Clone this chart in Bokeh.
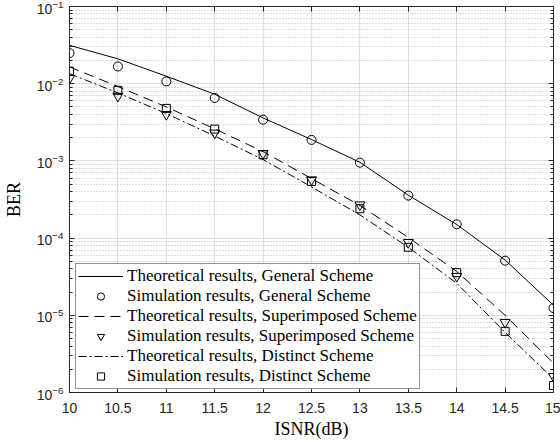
from bokeh.plotting import figure
from bokeh.models import (LogAxis, LinearAxis, Legend, LegendItem, Range1d, LogTicker,
                          FixedTicker)
from bokeh.embed import file_html
from bokeh.resources import INLINE

isnr = [10, 10.5, 11, 11.5, 12, 12.5, 13, 13.5, 14, 14.5, 15]

theory_general = [0.0314, 0.0210, 0.0125, 0.0073, 0.0036, 0.00189, 0.00096, 0.00036, 0.000150, 5.2e-5, 1.35e-5]
sim_general = [0.0249, 0.0167, 0.0107, 0.00653, 0.00342, 0.00187, 0.00095, 0.000355, 0.000151, 5.1e-5, 1.24e-5]
theory_super = [0.0165, 0.0092, 0.0050, 0.0026, 0.00132, 0.00059, 0.000265, 0.000102, 3.7e-5, 1.0e-5, 2.4e-6]
sim_super = [0.0117, 0.0069, 0.0040, 0.0023, 0.00125, 0.00057, 0.00027, 8.8e-5, 3.2e-5, 8.1e-6, 1.62e-6]
theory_distinct = [0.0135, 0.0076, 0.0041, 0.0021, 0.00104, 0.00046, 0.00020, 7.6e-5, 2.6e-5, 6.0e-6, 1.5e-6]
sim_distinct = [0.0145, 0.0082, 0.00479, 0.00258, 0.00120, 0.00054, 0.00024, 7.6e-5, 3.57e-5, 6.2e-6, 1.23e-6]

labels = [
    "Theoretical results, General Scheme",
    "Simulation results, General Scheme",
    "Theoretical results, Superimposed Scheme",
    "Simulation results, Superimposed Scheme",
    "Theoretical results, Distinct Scheme",
    "Simulation results, Distinct Scheme",
]

x_ticks = [10, 10.5, 11, 11.5, 12, 12.5, 13, 13.5, 14, 14.5, 15]

AX = "#262626"

p = figure(width=560, height=442, y_axis_type="log",
           x_range=Range1d(10, 15), y_range=Range1d(1e-6, 1e-1),
           output_backend="svg", toolbar_location=None,
           min_border_left=69, min_border_right=7, min_border_top=6, min_border_bottom=50)

p.outline_line_color = AX
p.outline_line_width = 1

p.xaxis.ticker = FixedTicker(ticks=x_ticks)
p.xaxis.major_label_overrides = {t: (str(int(t)) if t == int(t) else str(t)) for t in x_ticks}
p.yaxis.ticker = LogTicker(num_minor_ticks=10)

for ax in p.xaxis + p.yaxis:
    ax.axis_line_color = AX
    ax.major_tick_line_color = AX
    ax.minor_tick_line_color = AX
    ax.major_tick_in = 5
    ax.major_tick_out = 0
    ax.major_label_text_font = "Liberation Sans"
    ax.major_label_text_font_size = "14px"
    ax.major_label_text_color = AX
    ax.axis_label_text_font = "Liberation Serif"
    ax.axis_label_text_font_size = "18px"
    ax.axis_label_text_font_style = "normal"
    ax.axis_label_text_color = "black"

p.xaxis.minor_tick_in = 0
p.xaxis.minor_tick_out = 0
p.yaxis.minor_tick_in = 3
p.yaxis.minor_tick_out = 0
p.xaxis.major_label_standoff = 10
p.yaxis.major_label_standoff = 6
p.xaxis.axis_label = "ISNR(dB)"
p.yaxis.axis_label = "BER"
p.xaxis.axis_label_standoff = 3
p.yaxis.axis_label_standoff = 10

top = LinearAxis(ticker=FixedTicker(ticks=x_ticks), major_label_text_alpha=0,
                 major_label_text_font_size="1px",
                 major_label_standoff=0, major_tick_in=5, major_tick_out=0,
                 minor_tick_in=0, minor_tick_out=0, axis_line_color=AX, major_tick_line_color=AX)
right = LogAxis(ticker=LogTicker(num_minor_ticks=10), major_label_text_alpha=0,
                major_label_text_font_size="1px",
                major_label_standoff=0, major_tick_in=5, major_tick_out=0,
                minor_tick_in=3, minor_tick_out=0, axis_line_color=AX,
                major_tick_line_color=AX, minor_tick_line_color=AX)
p.add_layout(top, "above")
p.add_layout(right, "right")

p.xgrid.grid_line_color = "#dedede"
p.ygrid.grid_line_color = "#dedede"
p.ygrid.minor_grid_line_color = "#bdbdbd"
p.ygrid.minor_grid_line_dash = "1 2"
p.ygrid.minor_grid_line_width = 1

r1 = p.line(isnr, theory_general, line_color="black", line_width=1)
r2 = p.scatter(isnr, sim_general, marker="circle", size=9, fill_color=None, line_color="black", line_width=1)
r3 = p.line(isnr, theory_super, line_color="black", line_width=1, line_dash="10 6")
r4 = p.scatter(isnr, sim_super, marker="inverted_triangle", size=10, fill_color=None, line_color="black", line_width=1)
r5 = p.line(isnr, theory_distinct, line_color="black", line_width=1, line_dash="8 3 2 3")
r6 = p.scatter(isnr, sim_distinct, marker="square", size=8, fill_color=None, line_color="black", line_width=1)

legend = Legend(items=[LegendItem(label=l, renderers=[r]) for l, r in zip(labels, [r1, r2, r3, r4, r5, r6])],
                location=(6, 3), label_text_font="Liberation Serif", label_text_font_size="17px",
                label_text_color="black", glyph_width=45, glyph_height=18, label_height=18,
                spacing=0, padding=2, margin=0, label_standoff=4,
                border_line_color=AX, border_line_width=1, background_fill_color="white",
                background_fill_alpha=1)
p.add_layout(legend)

open("out.html", "w").write(file_html(p, INLINE))
